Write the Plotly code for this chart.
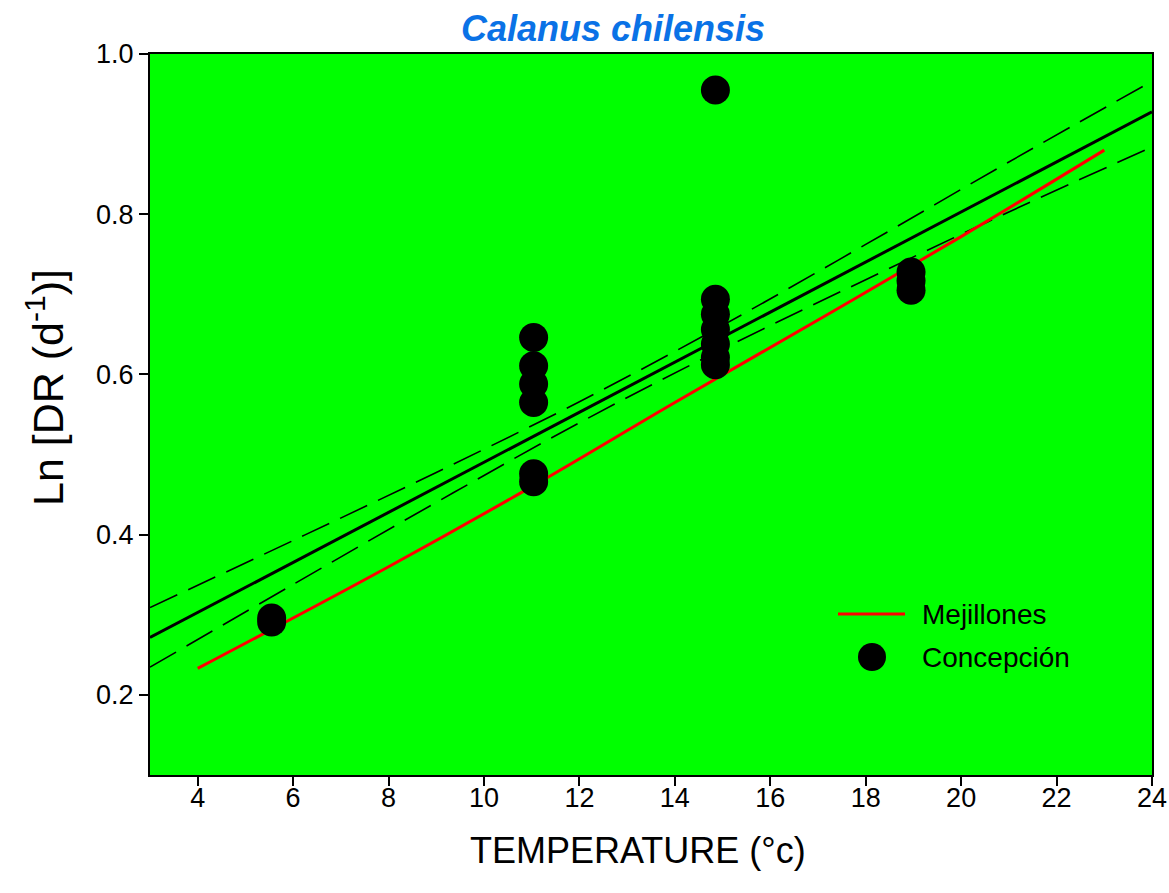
import plotly.graph_objects as go

# Concepción observations: temperature (°C) vs Ln development rate
conc_temp = [5.55, 5.55,
             11.04, 11.04, 11.04, 11.04, 11.04, 11.04,
             14.85, 14.85, 14.85, 14.85, 14.85, 14.85, 14.85,
             18.95, 18.95, 18.95]
conc_lndr = [0.296, 0.291,
             0.646, 0.611, 0.588, 0.565, 0.476, 0.466,
             0.955, 0.694, 0.675, 0.656, 0.638, 0.621, 0.612,
             0.728, 0.717, 0.705]

# Concepción regression line with 95% confidence band
fit_temp = [3, 6, 9, 12, 15, 18, 21, 24]
fit_line = [0.2716, 0.3653, 0.4590, 0.5528, 0.6465, 0.7403, 0.8340, 0.9278]
fit_upper = [0.3090, 0.3927, 0.4777, 0.5659, 0.6612, 0.7623, 0.8652, 0.9660]
fit_lower = [0.2346, 0.3379, 0.4403, 0.5397, 0.6318, 0.7183, 0.8028, 0.8840]

# Mejillones curve
mej_temp = [4, 8, 11, 14, 17, 20, 23]
mej_lndr = [0.233, 0.360, 0.460, 0.565, 0.668, 0.772, 0.880]

x_ticks = [4, 6, 8, 10, 12, 14, 16, 18, 20, 22, 24]
y_ticks = [0.2, 0.4, 0.6, 0.8, 1.0]

FONT = "Liberation Sans, Arial, sans-serif"
ML, MR, MT, MB = 150, 17, 54, 118
W, H = 1169, 893
PW, PH = W - ML - MR, H - MT - MB


def px_x(p):
    """Pixel column -> paper x."""
    return (p - ML) / PW


def px_y(p):
    """Pixel row -> paper y."""
    return (H - MB - p) / PH


fig = go.Figure()

for band in (fit_upper, fit_lower):
    fig.add_trace(go.Scatter(
        x=fit_temp, y=band, mode="lines", line_shape="spline",
        line=dict(color="black", width=1.6, dash="30px,12px"),
        showlegend=False, hoverinfo="skip"))

fig.add_trace(go.Scatter(
    x=[fit_temp[0], fit_temp[-1]], y=[fit_line[0], fit_line[-1]],
    mode="lines", line=dict(color="black", width=3),
    showlegend=False, hoverinfo="skip"))

fig.add_trace(go.Scatter(
    x=mej_temp, y=mej_lndr, mode="lines", line_shape="spline",
    line=dict(color="#ff0000", width=3), name="Mejillones", showlegend=False))

fig.add_trace(go.Scatter(
    x=conc_temp, y=conc_lndr, mode="markers",
    marker=dict(color="black", size=29, line=dict(width=0)),
    name="Concepción", showlegend=False))

# Legend keys drawn at full marker size
legend_row1, legend_row2 = px_y(614), px_y(657)
shapes = [
    dict(type="line", xref="paper", yref="paper",
         x0=px_x(838), x1=px_x(905), y0=legend_row1, y1=legend_row1,
         line=dict(color="#ff0000", width=3)),
    dict(type="circle", xref="paper", yref="paper",
         xsizemode="pixel", ysizemode="pixel",
         xanchor=px_x(872), yanchor=legend_row2,
         x0=-14, x1=14, y0=-14, y1=14,
         fillcolor="black", line=dict(width=0)),
]

annotations = [
    dict(text="Mejillones", x=px_x(920), y=legend_row1, xref="paper", yref="paper",
         xanchor="left", yanchor="middle", showarrow=False,
         font=dict(size=28, color="black")),
    dict(text="Concepción", x=px_x(920), y=legend_row2, xref="paper", yref="paper",
         xanchor="left", yanchor="middle", showarrow=False,
         font=dict(size=28, color="black")),
    dict(text="<b><i>Calanus chilensis</i></b>", x=px_x(613), y=px_y(28),
         xref="paper", yref="paper", xanchor="center", yanchor="middle",
         showarrow=False, font=dict(size=36, color="#0a72e6")),
    dict(text="TEMPERATURE (°c)", x=px_x(638), y=px_y(850),
         xref="paper", yref="paper", xanchor="center", yanchor="middle",
         showarrow=False, font=dict(size=36, color="black")),
    dict(text="Ln [DR (d<sup>-1</sup>)]", x=px_x(45), y=px_y(388),
         xref="paper", yref="paper", xanchor="center", yanchor="middle",
         textangle=-90, showarrow=False, font=dict(size=43, color="black")),
]

fig.update_layout(
    width=W, height=H,
    margin=dict(l=ML, r=MR, t=MT, b=MB, autoexpand=False),
    paper_bgcolor="white",
    plot_bgcolor="#00ff00",
    font=dict(family=FONT, size=27, color="black"),
    showlegend=False,
    shapes=shapes,
    annotations=annotations,
)

fig.update_xaxes(
    range=[3, 24], tickvals=x_ticks, ticks="outside", ticklen=9, tickwidth=1.5,
    tickcolor="black", showline=True, linecolor="black", linewidth=2,
    mirror=True, showgrid=False, zeroline=False, ticklabelstandoff=-11,
    automargin=False, tickfont=dict(size=27))
fig.update_yaxes(
    range=[0.1, 1.0], tickvals=y_ticks, tickformat=".1f", ticks="outside",
    ticklen=9, tickwidth=1.5, tickcolor="black", showline=True,
    linecolor="black", linewidth=2, mirror=True, showgrid=False, zeroline=False,
    automargin=False, tickfont=dict(size=27))

fig.write_html("out.html")
